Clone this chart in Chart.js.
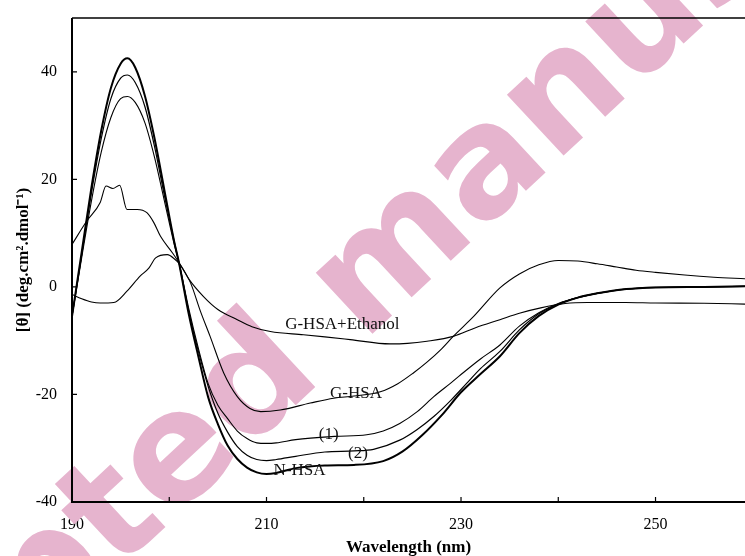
<!DOCTYPE html>
<html>
<head>
<meta charset="utf-8">
<script src="https://cdn.jsdelivr.net/npm/chart.js@4.4.1/dist/chart.umd.min.js"></script>
<style>
  html, body { margin: 0; padding: 0; background: #fff; }
  #wrap { width: 745px; height: 556px; position: relative; }
</style>
</head>
<body>
<div id="wrap"><canvas id="cdChart"></canvas></div>
<script>
// ── CD spectra, wavelength (nm) vs [θ] ─────────────────────────────
const nhsaX = [190, 191, 192, 193, 194, 195, 195.7, 196.5, 197.5, 198.5, 199.5, 200.5, 201, 202, 203, 204, 205, 206, 207, 208, 209, 210, 211, 213, 216, 219, 222, 224, 226, 228, 230, 232, 234, 236, 238, 240, 242, 244, 247, 250, 255, 259.2];
const nhsaY = [-5.5, 6.5, 18.5, 29, 37, 41.5, 42.5, 40.8, 35.5, 27.5, 18, 8.5, 4.5, -5, -13, -20.5, -25.5, -29.5, -32, -33.6, -34.5, -34.8, -34.6, -33.7, -33.2, -33.1, -32.4, -30.6, -27.6, -23.9, -19.6, -16.2, -12.9, -8.6, -5.4, -3.3, -2, -1.2, -0.4, -0.1, 0, 0.1];

const s2X = [190, 191, 192, 193, 194, 195, 195.7, 196.5, 197.5, 198.5, 199.5, 200.5, 201, 202, 203, 204, 205, 206, 207, 208, 209, 210, 211, 213, 216, 219, 221, 223.7, 225.5, 227.2, 229, 230.6, 232, 234, 236, 238, 240, 242, 244, 247, 250, 255, 259.2];
const s2Y = [-5.5, 6, 17.5, 27.5, 35, 38.8, 39.4, 38, 33.5, 26, 17, 8.5, 4.5, -4.5, -12, -18.5, -23.5, -27, -29.7, -31.3, -32.1, -32.3, -32.1, -31.5, -30.7, -30.5, -30.2, -28.5, -26.5, -24.1, -21, -17.9, -15.2, -12, -8, -5, -3.2, -2, -1.2, -0.4, -0.1, 0, 0.1];

const s1X = [190, 191, 192, 193, 194, 195, 195.7, 196.5, 197.5, 198.5, 199.5, 200.5, 201, 202, 203, 204, 205, 206, 207, 208, 209, 210, 211, 213, 217, 220.3, 222, 223.7, 225.5, 227.2, 229, 230.6, 232, 234, 236, 238, 240, 242, 244, 247, 250, 255, 259.2];
const s1Y = [-5.5, 5.5, 16, 25, 31.5, 35, 35.4, 34.3, 30.5, 24, 16, 8, 4.5, -4, -11.5, -18, -22, -24.5, -26.8, -28.2, -29, -29.1, -29, -28.4, -27.8, -27.5, -26.8, -25.4, -23.2, -20.4, -17.8, -15.4, -13.4, -10.8, -7.3, -4.8, -3.1, -2, -1.2, -0.4, -0.1, 0, 0.1];

const ghsaX = [190, 191.5, 192.9, 193.5, 194.2, 194.9, 195.65, 196.7, 197.7, 198.4, 199.1, 200.3, 201, 202.2, 203.2, 204.2, 205.6, 207, 208.3, 209.4, 211.4, 214.5, 216.9, 219, 221.7, 223.5, 225.1, 226.5, 227.9, 229.2, 231.3, 234, 236, 238, 240, 242, 244, 246, 248, 250, 253, 256, 259.2];
const ghsaY = [7.9, 12.2, 15.7, 18.75, 18.3, 18.9, 14.4, 14.4, 13.8, 12, 9.4, 6.4, 4.5, 0.7, -4.5, -9.2, -16, -20.4, -22.6, -23.2, -22.9, -21.6, -20.7, -20.3, -19.5, -18, -16, -14, -11.7, -9.2, -5.5, -0.2, 2.4, 4.1, 4.9, 4.8, 4.3, 3.7, 3.1, 2.7, 2.2, 1.8, 1.5];

const ethX = [190, 191, 192, 192.9, 194.3, 195.65, 197, 197.9, 198.6, 199.8, 200.6, 201.1, 202, 203.5, 205, 207, 208.5, 210.4, 213.8, 216, 218.6, 222.7, 224.5, 226.5, 229.2, 231.5, 234, 236, 238.2, 240.7, 243, 246.9, 250, 255, 259.2];
const ethY = [-1.4, -2.2, -2.8, -3.0, -2.9, -0.8, 2.0, 3.5, 5.4, 6.0, 5.1, 4.2, 1.5, -1.75, -4.2, -6.1, -7.4, -8.3, -8.9, -9.3, -9.8, -10.6, -10.5, -10.1, -9.2, -7.6, -6.1, -4.9, -3.9, -3.1, -2.9, -2.9, -3.0, -3.05, -3.2];

const xTicks = [190, 200, 210, 220, 230, 240, 250];
const xTickLabels = [190, 210, 230, 250];
const yTicks = [-40, -20, 0, 20, 40];

// curve labels: [text, wavelength, value]
const curveLabels = [
  ["G-HSA+Ethanol", 217.8, -7.0],
  ["G-HSA", 219.2, -19.9],
  ["(1)", 216.4, -27.5],
  ["(2)", 219.4, -30.9],
  ["N-HSA", 213.4, -34.2],
];

const watermark = "Accepted manuscript";

const serif = "'Liberation Serif', 'Times New Roman', Times, serif";

const pts = (xs, ys) => xs.map((x, i) => ({ x, y: ys[i] }));

const line = (label, xs, ys, width) => ({
  label,
  data: pts(xs, ys),
  borderColor: "#000",
  borderWidth: width,
  pointRadius: 0,
  fill: false,
  cubicInterpolationMode: "monotone",
});

// pink diagonal watermark under the curves
const watermarkPlugin = {
  id: "watermark",
  beforeDatasetsDraw(chart) {
    const ctx = chart.ctx;
    ctx.save();
    ctx.font = "bold 152px 'DejaVu Sans', sans-serif";
    ctx.fillStyle = "rgb(230, 180, 206)";
    ctx.translate(394, 259);
    ctx.rotate(-43 * Math.PI / 180);
    const pre = ctx.measureText("Accepted ").width;
    const m = ctx.measureText("m").width;
    ctx.textBaseline = "alphabetic";
    ctx.fillText(watermark, -pre - m / 2, 40);
    ctx.restore();
  },
};

// axes frame with inward ticks, plus curve labels
const framePlugin = {
  id: "frame",
  afterDraw(chart) {
    const { ctx, chartArea: a, scales } = chart;
    ctx.save();
    ctx.strokeStyle = "#000";
    ctx.lineWidth = 1.5;
    ctx.beginPath();
    ctx.moveTo(a.left, a.top);
    ctx.lineTo(a.right, a.top);
    ctx.stroke();
    ctx.lineWidth = 2;
    ctx.beginPath();
    ctx.moveTo(a.left, a.top);
    ctx.lineTo(a.left, a.bottom);
    ctx.lineTo(a.right, a.bottom);
    ctx.stroke();
    ctx.lineWidth = 1.2;
    ctx.beginPath();
    xTicks.forEach((v) => {
      const px = scales.x.getPixelForValue(v);
      ctx.moveTo(px, a.bottom);
      ctx.lineTo(px, a.bottom - 5);
    });
    yTicks.forEach((v) => {
      const py = scales.y.getPixelForValue(v);
      ctx.moveTo(a.left, py);
      ctx.lineTo(a.left + 5, py);
    });
    ctx.stroke();

    ctx.fillStyle = "#111";
    ctx.font = "17px " + serif;
    ctx.textAlign = "center";
    ctx.textBaseline = "middle";
    curveLabels.forEach(([t, x, y]) => {
      ctx.fillText(t, scales.x.getPixelForValue(x), scales.y.getPixelForValue(y));
    });
    ctx.restore();
  },
};

new Chart(document.getElementById("cdChart"), {
  type: "line",
  data: {
    datasets: [
      line("G-HSA+Ethanol", ethX, ethY, 1.1),
      line("G-HSA", ghsaX, ghsaY, 1.1),
      line("(1)", s1X, s1Y, 1.1),
      line("(2)", s2X, s2Y, 1.2),
      line("N-HSA", nhsaX, nhsaY, 2),
    ],
  },
  options: {
    responsive: true,
    maintainAspectRatio: false,
    animation: false,
    devicePixelRatio: 1,
    layout: { padding: { top: 18, right: 0, left: 0, bottom: 0 } },
    plugins: { legend: { display: false }, tooltip: { enabled: false } },
    scales: {
      x: {
        type: "linear",
        min: 190,
        max: 259.2,
        grid: { display: false },
        border: { display: false },
        afterBuildTicks(s) { s.ticks = xTicks.map((v) => ({ value: v })); },
        ticks: {
          autoSkip: false,
          maxRotation: 0,
          padding: 5,
          color: "#000",
          font: { family: serif, size: 16 },
          callback: (v) => (xTickLabels.includes(v) ? String(v) : ""),
        },
        title: {
          display: true,
          text: "Wavelength (nm)",
          color: "#000",
          padding: 0,
          font: { family: serif, size: 17, weight: "bold", lineHeight: 1 },
        },
        afterFit(s) { s.height = 54; s.paddingLeft = 0; s.paddingRight = 0; },
      },
      y: {
        min: -40,
        max: 50,
        grid: { display: false },
        border: { display: false },
        afterBuildTicks(s) { s.ticks = yTicks.map((v) => ({ value: v })); },
        ticks: {
          autoSkip: false,
          padding: 7,
          color: "#000",
          font: { family: serif, size: 16 },
        },
        title: {
          display: true,
          text: "[θ] (deg.cm².dmol⁻¹)",
          color: "#000",
          padding: { top: 15, bottom: 0 },
          font: { family: serif, size: 17, weight: "bold", lineHeight: 1 },
        },
        afterFit(s) { s.width = 72; s.paddingTop = 0; s.paddingBottom = 0; },
      },
    },
  },
  plugins: [watermarkPlugin, framePlugin],
});
</script>
</body>
</html>
